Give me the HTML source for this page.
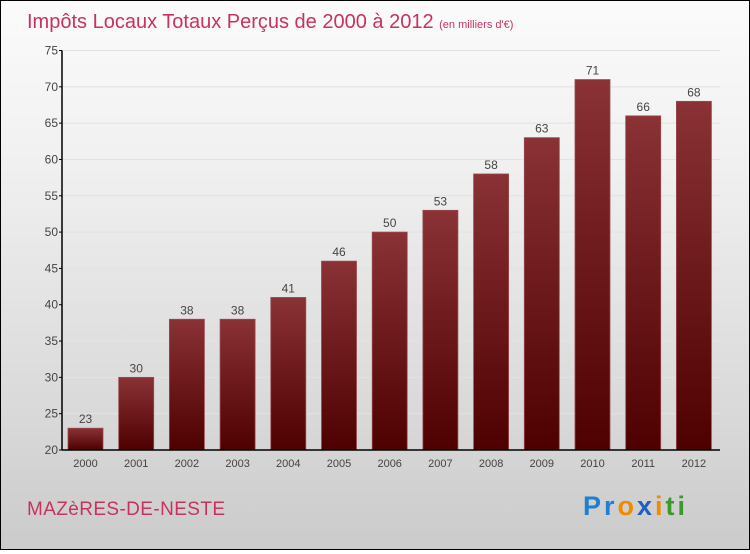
<!DOCTYPE html>
<html><head><meta charset="utf-8"><style>
html,body{margin:0;padding:0}
body{width:750px;height:550px;overflow:hidden}
#wrap{position:relative;width:748px;height:548px;border:1px solid #000;background:linear-gradient(#fbfbfb,#f0f0f0 30%,#d9d9d9 75%,#cbcbcb);font-family:"Liberation Sans",sans-serif}
</style></head><body>
<div id="wrap">
<svg width="748" height="548" id="svg">
<defs><linearGradient id="bg" x1="0" y1="0" x2="0" y2="1"><stop offset="0" stop-color="#8a3236"/><stop offset="1" stop-color="#4e0000"/></linearGradient></defs>
<text x="26" y="27" font-size="20" fill="#c8325e">Impôts Locaux Totaux Perçus de 2000 à 2012 <tspan font-size="11">(en milliers d'€)</tspan></text>
<text x="26" y="514" font-size="19" fill="#c8325e" textLength="198">MAZèRES-DE-NESTE</text>
<text x="582" y="514" font-size="27" font-weight="bold" textLength="102"><tspan fill="#1f7fd0">Pr</tspan><tspan fill="#f08a00">o</tspan><tspan fill="#1f5fc0">x</tspan><tspan fill="#f08a00">i</tspan><tspan fill="#3a9a2a">ti</tspan></text>
<g id="plot"></g>
</svg>
</div>
<script>
const categories=["2000","2001","2002","2003","2004","2005","2006","2007","2008","2009","2010","2011","2012"];
const values=[23,30,38,38,41,46,50,53,58,63,71,66,68];
const yTicks=[20,25,30,35,40,45,50,55,60,65,70,75];
const NS="http://www.w3.org/2000/svg";
const g=document.getElementById("plot");
const x0=61,x1=719,yTop=49.5,yBot=449;
const y=v=>yBot-(v-20)/(75-20)*(yBot-yTop);
const step=50.7,first=84.5;
const xc=i=>first+i*step;
function mk(t,a){const e=document.createElementNS(NS,t);for(const k in a)e.setAttribute(k,a[k]);g.appendChild(e);return e;}
yTicks.forEach(t=>{
 const gl=mk("line",{x1:x0,x2:x1,y1:y(t),y2:y(t),stroke:"#e2e2e2","stroke-width":1});
 
 
 const tk=mk("line",{x1:x0-3,x2:x0,y1:y(t),y2:y(t),stroke:"#000"});
 
 
 const tx=mk("text",{x:x0-4,y:y(t)+4,"font-size":12,fill:"#444","text-anchor":"end"});
 tx.textContent=t;
 
 
});
values.forEach((v,i)=>{
 const r=mk("rect",{x:xc(i)-17.5,y:y(v),width:35,height:yBot-y(v),fill:"url(#bg)",stroke:"#9a4a4e","stroke-width":0.8});
 
 
 const l=mk("text",{x:xc(i),y:y(v)-5,"font-size":12,fill:"#444","text-anchor":"middle"});
 l.textContent=v;
 
 
 const c=mk("text",{x:xc(i),y:466,"font-size":11,fill:"#444","text-anchor":"middle"});
 c.textContent=categories[i];
 
 
});
const ya=mk("line",{x1:x0,x2:x0,y1:yTop,y2:yBot,stroke:"#000","stroke-width":1.5});


const xa=mk("line",{x1:x0,x2:x1,y1:yBot,y2:yBot,stroke:"#000","stroke-width":1.5});


</script>
</body></html>
